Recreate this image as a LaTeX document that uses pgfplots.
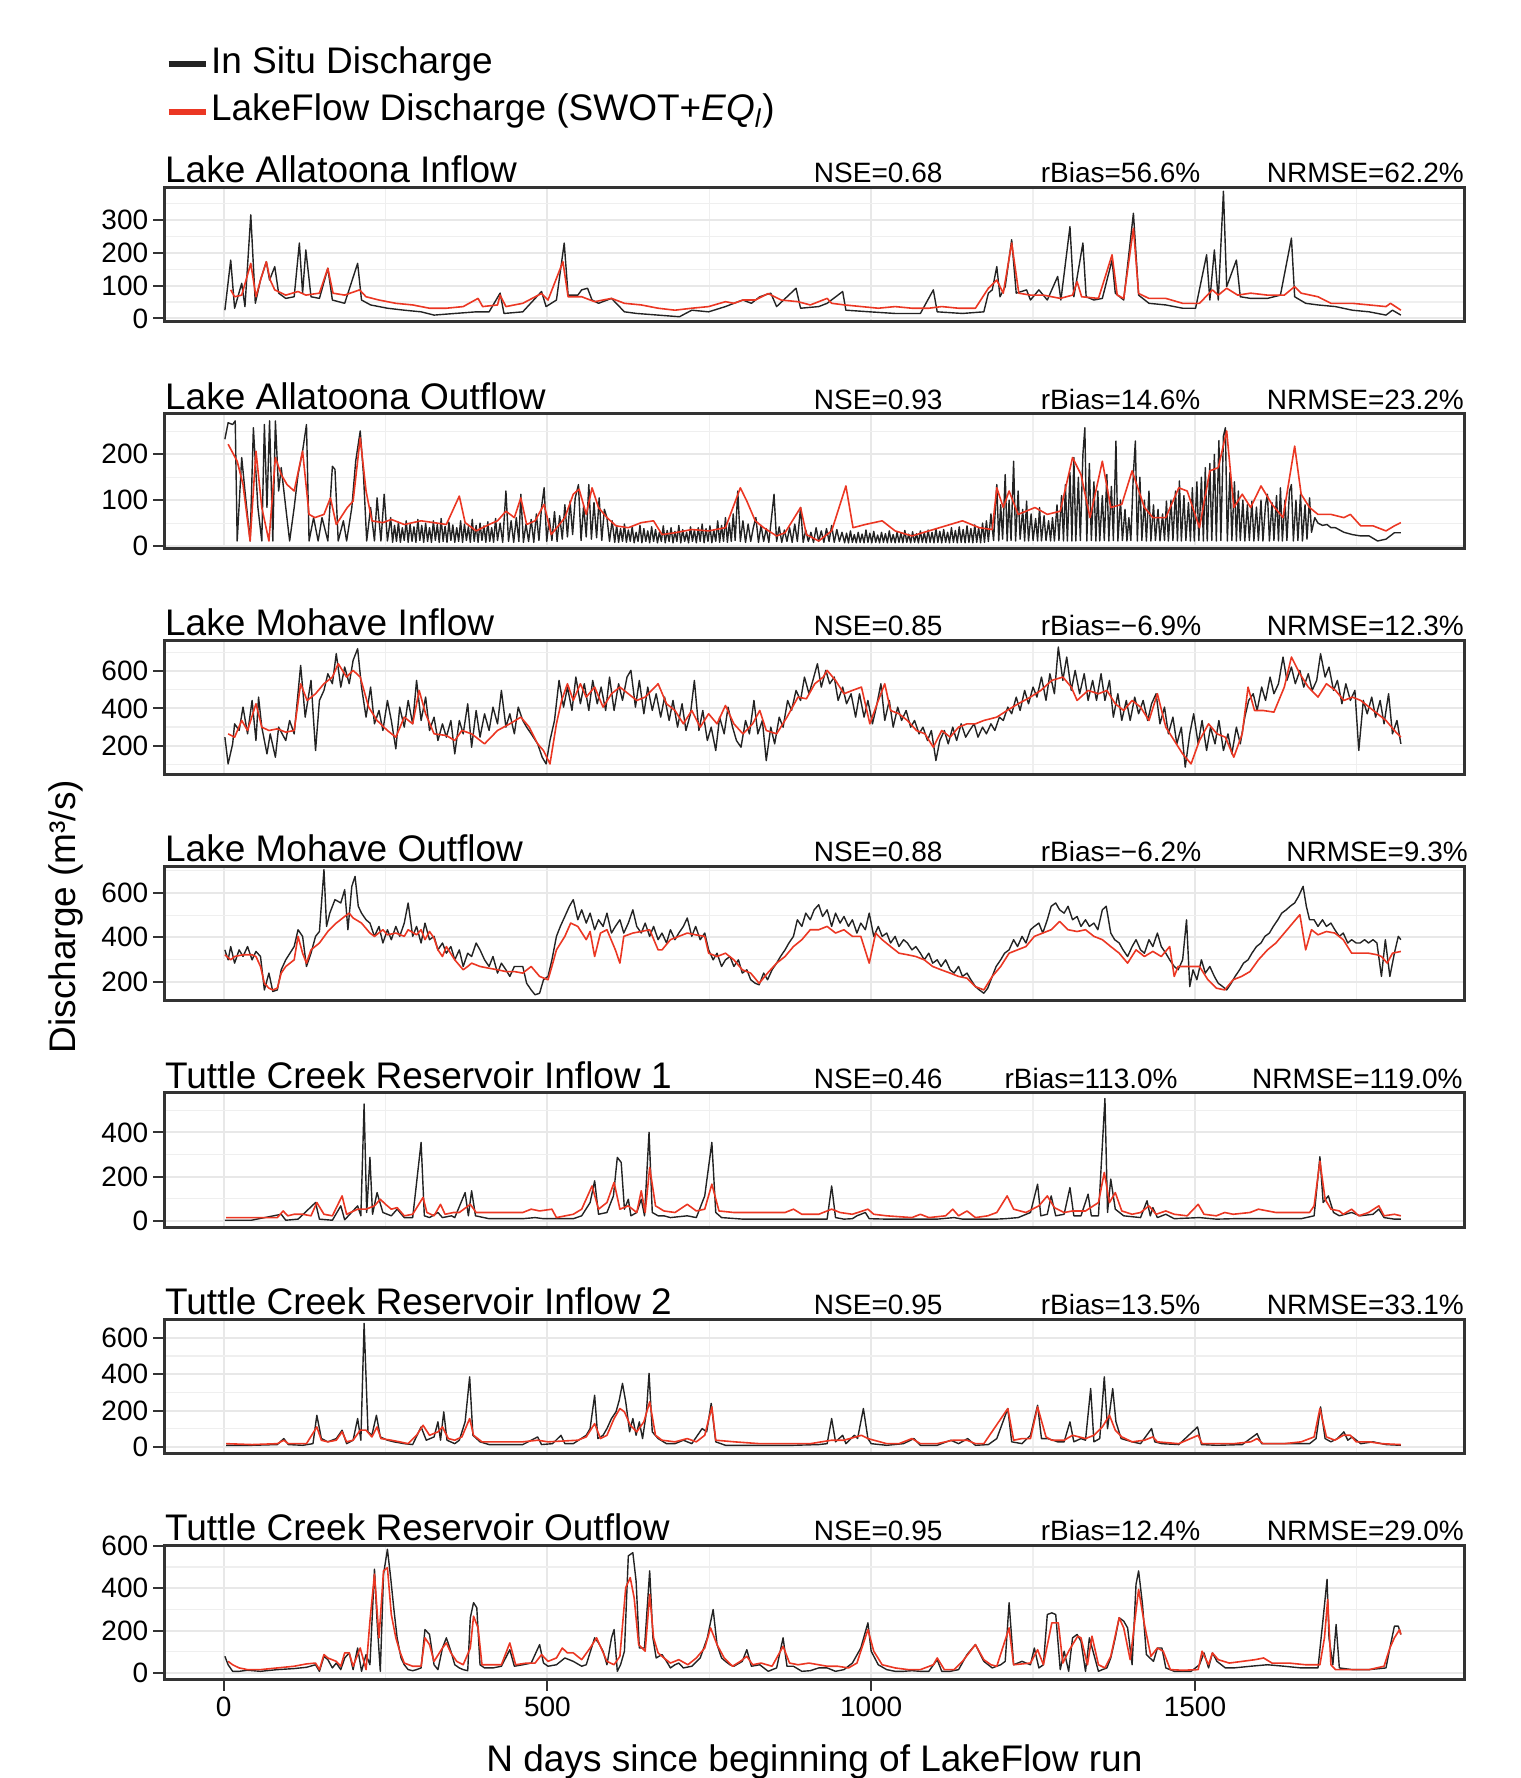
\documentclass[border=0pt]{standalone}
\usepackage{fontspec}
\setmainfont{Liberation Sans}
\usepackage{pgfplots}
\pgfplotsset{compat=1.18}
\definecolor{lfred}{RGB}{235,55,35}
\definecolor{insitu}{RGB}{35,35,35}
\definecolor{gridc}{RGB}{232,232,232}
\definecolor{framec}{RGB}{51,51,51}
\newcommand\titlesize{\fontsize{11.1}{13}\selectfont}
\newcommand\smallsize{\fontsize{8.4}{10}\selectfont}
\pgfplotsset{
 panel/.style={
  width=390pt, height=40.3pt, scale only axis, anchor=south west,
  xmin=-91.25, xmax=1916.25,
  xtick={0,500,1000,1500}, minor xtick={250,750,1250,1750},
  xticklabels={}, xtick style={draw=none},
  grid=both,
  major grid style={color=gridc, line width=0.6pt},
  minor grid style={color=gridc!70!white, line width=0.35pt},
  axis line style={line width=0.9pt, color=framec},
  tick align=outside, xtick pos=bottom, ytick pos=left,
  major tick length=3.3pt, minor tick length=0pt,
  major tick style={line width=0.6pt, color=framec},
  tick label style={font=\smallsize, color=black},
  yticklabel style={inner sep=1.4pt},
  /pgf/number format/assume math mode=true,
  /pgf/number format/1000 sep={},
  scaled ticks=false,
  clip mode=individual,
 },
 insitu/.style={color=insitu, line width=0.42pt, line join=round},
 lake/.style={color=lfred, line width=0.48pt, line join=round},
}
\newcommand\panelhead[6]{%
  \node[anchor=base west, inner sep=0pt, font=\titlesize, yshift=1.4pt] at (rel axis cs:0,1) {#1};
  \node[anchor=base west, inner sep=0pt, font=\smallsize, yshift=1.4pt] at (rel axis cs:0.4991,1) {#2};
  \node[anchor=base west, inner sep=0pt, font=\smallsize, yshift=1.4pt] at (rel axis cs:#3,1) {#4};
  \node[anchor=base east, inner sep=0pt, font=\smallsize, yshift=1.4pt] at (rel axis cs:#5,1) {#6};
}
\begin{document}
\begin{tikzpicture}
\path[use as bounding box] (0,0) rectangle (456pt,533.4pt);
% ---------------- Panel 1
\begin{axis}[panel, at={(49.35pt,436.8pt)}, ymin=-11, ymax=399,
  ytick={0,100,200,300}, minor ytick={50,150,250,350},
  legend cell align=left,
  legend style={at={(axis description cs:0.0004,2.067)}, anchor=north west, draw=none, fill=none,
    inner sep=0pt, font=\titlesize, row sep=2.8pt,
    nodes={inner sep=0.5pt, text height=8pt, text depth=2.5pt}},
  legend image code/.code={\draw[#1, line width=1.8pt] (0pt,0pt) -- (11.3pt,0pt);},
]
\addplot[insitu] coordinates {(2,25) (11,178) (17,31) (28,107) (33,36) (42,316) (49,46) (57,117) (66,173) (71,117) (79,158) (85,77) (96,61) (109,66) (117,230) (122,77) (127,209) (135,66) (148,61) (161,153) (168,56) (187,46) (207,168) (213,56) (227,41) (253,31) (279,25) (305,20) (325,10) (357,15) (390,20) (410,20) (427,77) (433,15) (462,20) (491,82) (498,36) (514,56) (526,230) (532,71) (547,71) (553,87) (562,92) (569,56) (579,46) (599,61) (619,20) (638,15) (671,10) (704,5) (723,25) (749,20) (775,36) (788,46) (802,56) (815,46) (828,66) (845,77) (854,36) (884,92) (891,31) (919,36) (932,46) (956,82) (961,25) (998,20) (1037,15) (1076,15) (1096,87) (1102,20) (1141,15) (1174,20) (1181,77) (1187,87) (1194,158) (1199,66) (1207,97) (1217,240) (1224,77) (1240,87) (1246,56) (1259,87) (1272,56) (1288,128) (1293,56) (1307,280) (1313,66) (1327,230) (1332,66) (1344,56) (1357,61) (1372,178) (1377,77) (1390,56) (1405,321) (1413,71) (1429,46) (1455,41) (1481,31) (1501,31) (1518,194) (1523,56) (1530,209) (1536,56) (1544,388) (1549,97) (1564,178) (1570,66) (1586,61) (1612,61) (1632,71) (1649,245) (1654,66) (1671,46) (1690,41) (1717,36) (1743,25) (1769,20) (1795,10) (1805,25) (1818,10)};
\addplot[lake] coordinates {(11,87) (17,66) (28,71) (42,168) (50,66) (57,117) (66,173) (72,117) (79,87) (96,71) (115,82) (127,71) (148,77) (161,153) (169,77) (187,71) (210,87) (220,66) (240,56) (266,46) (292,41) (318,31) (344,31) (370,36) (393,61) (400,36) (423,41) (427,71) (436,36) (462,46) (491,76) (501,56) (524,173) (532,66) (553,66) (573,51) (599,61) (619,46) (645,41) (671,31) (697,25) (723,31) (749,36) (775,51) (788,46) (802,56) (821,56) (841,76) (861,56) (887,51) (906,41) (932,61) (939,46) (959,41) (985,36) (1011,31) (1037,36) (1063,31) (1089,31) (1109,36) (1135,31) (1161,31) (1181,92) (1194,117) (1204,77) (1217,230) (1228,77) (1246,71) (1266,71) (1292,61) (1311,71) (1318,112) (1325,66) (1351,61) (1372,194) (1380,71) (1390,61) (1405,275) (1413,76) (1429,61) (1455,61) (1481,46) (1507,46) (1527,87) (1536,71) (1549,92) (1566,71) (1586,77) (1612,71) (1638,71) (1654,97) (1664,77) (1690,66) (1710,46) (1743,46) (1769,41) (1795,36) (1802,46) (1818,25)};
\legend{In Situ Discharge, LakeFlow Discharge (SWOT+\textit{EQ\textsubscript{l}})}
\panelhead{Lake Allatoona Inflow}{NSE=0.68}{0.6736}{rBias=56.6\%}{1}{NRMSE=62.2\%}
\end{axis}
% ---------------- Panel 2
\begin{axis}[panel, at={(49.35pt,368.9pt)}, ymin=-5, ymax=288,
  ytick={0,100,200}, minor ytick={50,150,250}]
\addplot[insitu] coordinates {(2,233) (7,269) (14,265) (18,273) (21,11) (28,193) (33,120) (41,11) (46,258) (53,84) (59,11) (63,265) (67,84) (71,273) (76,11) (80,273) (85,120) (89,171) (96,84) (102,11) (109,84) (115,156) (122,207) (128,265) (132,11) (139,62) (146,11) (152,62) (161,11) (168,174) (172,167) (177,11) (185,55) (190,11) (198,84) (204,185) (211,251) (216,156) (221,11) (227,84) (233,11) (237,105) (243,11) (248,113) (253,11)
(258,62) (261,8) (264,45) (267,10) (270,52) (273,8) (276,40) (279,12) (282,55) (285,8) (288,48) (291,10) (294,42) (297,8) (300,58) (303,12) (306,45) (309,8) (312,50) (315,10) (318,40) (321,8) (324,55) (327,12) (330,47) (333,8) (336,60) (339,10) (342,43) (345,8) (348,52) (351,12) (354,46) (357,8) (360,40) (363,10) (366,55) (369,8) (372,48) (375,12) (378,42) (381,8) (384,58) (387,10) (390,45) (393,8) (396,50) (399,12) (402,44) (405,8) (408,53) (411,10) (414,40) (417,8) (420,60) (423,12) (427,50) (431,8) (436,120) (440,10) (444,55) (448,8) (452,62) (456,10) (459,113) (463,8) (467,48) (471,10) (475,58) (479,8) (483,70) (487,12) (491,85) (495,127) (499,10) (503,60) (507,12) (511,75) (515,10) (519,66) (523,15) (527,90) (531,20) (535,98) (539,25) (543,105) (548,134) (552,12) (556,88) (560,20) (564,134) (568,15) (572,95) (576,18) (580,105) (584,12) (588,80) (592,62) (596,10) (600,55) (604,8)
(607,45) (610,8) (613,38) (616,10) (619,48) (622,8) (625,35) (628,10) (631,42) (634,7) (637,30) (640,10) (643,45) (646,7) (649,38) (652,10) (655,33) (658,7) (661,42) (664,10) (667,36) (670,7) (673,30) (676,10) (679,44) (682,7) (685,34) (688,10) (691,40) (694,7) (697,32) (700,10) (703,45) (706,7) (709,36) (712,10) (715,30) (718,7) (721,42) (724,10) (727,35) (730,7) (733,40) (736,10) (739,48) (742,7) (745,38) (748,10) (751,44) (754,7) (757,35) (760,10) (763,55) (766,8) (769,45) (772,10) (775,62) (778,8) (781,50) (784,10) (787,70) (790,12) (794,120) (798,10) (802,55) (806,8) (810,48) (814,10) (818,40) (822,62) (826,8) (830,45) (834,10) (838,38) (842,8) (846,60) (850,113) (854,10) (858,42) (862,8) (866,35) (870,10) (874,40) (878,8) (882,48) (886,10) (891,84) (895,8) (899,35) (903,10) (907,30) (911,8) (915,40) (919,10) (923,33) (927,8) (931,38) (935,10) (939,45) (943,8) (947,36) (951,10) (955,30) (959,7)
(962,28) (965,7) (968,33) (971,8) (974,25) (977,7) (980,30) (983,8) (986,26) (989,7) (992,35) (995,8) (998,28) (1001,7) (1004,32) (1007,8) (1010,24) (1013,7) (1016,30) (1019,8) (1022,27) (1025,7) (1028,33) (1031,8) (1034,25) (1037,7) (1040,30) (1043,8) (1046,28) (1049,7) (1052,34) (1055,8) (1058,26) (1061,7) (1064,31) (1067,8) (1070,27) (1073,7) (1076,33) (1079,8) (1082,29) (1085,7) (1088,35) (1091,8) (1094,30) (1097,7) (1100,38) (1103,8) (1106,32) (1109,7) (1112,36) (1115,8) (1118,30) (1121,7) (1124,40) (1127,8) (1130,34) (1133,7) (1136,42) (1139,8) (1142,36) (1145,7) (1148,44) (1151,8) (1154,38) (1157,7) (1160,46) (1163,8) (1166,40) (1169,7) (1172,50) (1175,8) (1178,55) (1181,10) (1185,70) (1189,12)
(1194,134) (1197,11) (1200,90) (1203,15) (1207,156) (1210,11) (1213,100) (1216,12) (1220,185) (1223,11) (1227,120) (1230,15) (1234,80) (1237,11) (1240,98) (1243,11) (1247,70) (1250,12) (1254,60) (1257,11) (1260,84) (1263,11) (1267,66) (1270,12) (1274,55) (1277,11) (1280,62) (1283,11) (1287,90) (1290,12) (1294,110) (1297,11) (1300,134) (1303,11) (1307,160) (1310,11) (1313,193) (1316,11) (1320,150) (1323,12) (1327,200) (1330,258) (1333,11) (1337,180) (1340,12) (1344,140) (1347,11) (1350,120) (1353,11) (1357,110) (1360,12) (1364,156) (1367,11) (1371,130) (1374,12) (1378,229) (1381,11) (1385,100) (1388,12) (1392,80) (1395,11) (1398,62) (1401,12) (1405,160) (1408,229) (1411,11) (1415,150) (1418,12) (1422,100) (1425,11) (1429,120) (1432,11) (1436,90) (1439,12) (1443,80) (1446,11) (1450,70) (1453,12) (1456,98) (1459,11) (1463,100) (1466,12) (1470,120) (1473,11) (1476,142) (1479,11) (1483,110) (1486,12) (1490,95) (1493,11) (1496,127) (1499,11) (1503,140) (1506,12) (1510,150) (1513,11) (1516,171) (1519,11) (1523,180) (1526,12) (1530,200) (1533,11) (1537,230) (1540,12) (1544,240) (1547,258) (1550,11) (1554,160) (1557,12) (1561,140) (1564,11) (1567,120) (1570,12) (1574,100) (1577,11) (1581,90) (1584,12) (1588,98) (1591,11) (1595,85) (1598,12) (1602,100) (1605,11) (1609,90) (1612,113) (1615,11) (1619,95) (1622,12) (1626,110) (1629,11) (1632,127) (1635,11) (1639,100) (1642,12) (1646,120) (1649,134) (1652,11) (1656,100) (1659,12) (1663,113) (1666,11) (1670,90) (1673,15) (1677,105) (1680,30) (1685,62) (1690,50) (1697,45) (1704,47) (1710,40) (1717,40) (1730,30) (1743,25) (1756,22) (1769,22) (1782,11) (1795,15) (1808,29) (1818,29)};
\addplot[lake] coordinates {(7,222) (21,185) (30,134) (41,11) (50,207) (59,84) (70,11) (80,193) (89,156) (98,134) (109,120) (122,207) (132,69) (141,62) (155,69) (165,105) (174,47) (191,84) (200,98) (211,236) (220,120) (229,55) (246,51) (259,58) (279,47) (305,55) (325,51) (344,47) (364,109) (373,51) (390,33) (410,47) (423,55) (436,76) (449,62) (459,105) (468,47) (481,55) (495,91) (506,25) (527,62) (540,113) (549,124) (560,69) (569,127) (579,84) (592,62) (606,44) (625,40) (645,51) (664,55) (677,25) (697,29) (723,36) (749,33) (775,40) (798,127) (808,98) (821,55) (834,40) (854,22) (867,29) (891,84) (900,25) (919,11) (939,33) (961,131) (972,40) (991,47) (1017,55) (1037,33) (1063,22) (1089,33) (1115,44) (1141,55) (1167,40) (1187,36) (1194,127) (1204,84) (1213,120) (1227,69) (1253,84) (1272,69) (1292,76) (1311,193) (1324,156) (1338,62) (1357,185) (1370,84) (1387,91) (1403,164) (1422,84) (1435,62) (1455,62) (1475,127) (1488,120) (1507,40) (1523,164) (1536,171) (1549,251) (1560,84) (1573,113) (1586,84) (1602,131) (1619,91) (1636,62) (1654,218) (1664,113) (1677,84) (1690,69) (1710,69) (1730,62) (1740,69) (1756,44) (1775,44) (1795,33) (1808,44) (1818,51)};
\panelhead{Lake Allatoona Outflow}{NSE=0.93}{0.6736}{rBias=14.6\%}{1}{NRMSE=23.2\%}
\end{axis}
% ---------------- Panel 3
\begin{axis}[panel, at={(49.35pt,301.0pt)}, ymin=43, ymax=767,
  ytick={200,400,600}, minor ytick={100,300,500,700}]
\addplot[insitu] coordinates {(2,245) (7,101) (14,209) (17,317) (24,281) (30,407) (37,263) (44,443) (50,227) (54,461) (59,299) (67,155) (72,263) (80,137) (85,299) (96,227) (102,335) (109,263) (119,632) (126,353) (135,551) (142,173) (148,443) (155,497) (161,587) (168,533) (174,695) (181,515) (187,623) (194,533) (200,659) (207,722) (213,515) (220,353) (227,515) (233,317) (240,389) (246,281) (253,443) (259,335) (266,182) (272,407) (279,299) (285,443) (292,317) (298,551) (305,335) (312,461) (318,281) (325,353) (331,227) (338,317) (344,245) (351,335) (357,155) (364,335) (370,263) (377,425) (383,191) (390,389) (396,245) (403,371) (410,281) (416,407) (423,317) (429,497) (436,299) (442,371) (449,263) (455,407) (462,335) (468,299) (475,263) (485,209) (492,137) (498,101) (504,227) (511,335) (518,551) (525,407) (531,515) (538,389) (544,569) (551,425) (557,533) (564,389) (570,551) (577,425) (583,515) (590,389) (596,569) (603,389) (610,533) (616,443) (623,569) (629,605) (636,407) (642,551) (649,371) (655,515) (662,389) (668,479) (675,353) (681,461) (688,335) (694,443) (701,299) (708,425) (714,281) (721,371) (727,551) (734,281) (740,389) (747,227) (753,299) (760,173) (766,353) (773,263) (779,407) (786,299) (792,227) (799,191) (806,335) (812,263) (819,443) (825,263) (832,335) (838,119) (845,299) (851,209) (858,353) (864,299) (871,443) (877,389) (884,497) (891,443) (897,569) (904,479) (910,551) (917,641) (923,515) (930,605) (936,533) (943,569) (949,443) (956,515) (962,425) (969,479) (976,353) (982,479) (989,353) (995,443) (1002,317) (1008,407) (1015,533) (1021,335) (1028,443) (1034,299) (1041,407) (1047,335) (1054,389) (1061,299) (1067,335) (1074,263) (1080,299) (1087,227) (1093,281) (1100,119) (1106,227) (1113,281) (1119,209) (1126,299) (1132,227) (1139,317) (1146,245) (1152,281) (1159,317) (1165,245) (1172,299) (1178,263) (1185,317) (1191,281) (1198,353) (1204,335) (1211,407) (1217,371) (1224,461) (1230,389) (1237,497) (1243,425) (1250,515) (1256,461) (1263,569) (1270,443) (1276,587) (1283,479) (1289,731) (1296,551) (1302,677) (1309,497) (1315,605) (1322,479) (1329,587) (1335,443) (1342,551) (1348,443) (1355,587) (1361,443) (1368,551) (1374,353) (1381,479) (1387,335) (1394,443) (1400,335) (1407,461) (1413,371) (1420,443) (1427,335) (1433,425) (1440,479) (1446,317) (1453,407) (1459,263) (1466,353) (1472,209) (1479,299) (1485,83) (1492,263) (1498,371) (1505,209) (1511,335) (1518,173) (1524,299) (1531,209) (1537,335) (1544,173) (1551,263) (1557,155) (1564,299) (1570,209) (1577,353) (1583,443) (1590,479) (1596,389) (1603,515) (1609,443) (1616,569) (1622,479) (1629,533) (1636,677) (1642,551) (1649,623) (1655,533) (1662,605) (1668,515) (1675,587) (1681,497) (1688,551) (1694,695) (1701,569) (1707,623) (1714,497) (1720,551) (1727,425) (1733,533) (1740,443) (1747,497) (1753,173) (1760,443) (1766,371) (1773,461) (1779,353) (1786,443) (1792,317) (1799,479) (1805,263) (1812,335) (1818,209)};
\addplot[lake] coordinates {(7,263) (17,245) (28,335) (37,281) (50,425) (59,299) (70,281) (83,290) (96,272) (109,281) (119,533) (129,443) (142,479) (155,533) (168,569) (177,641) (190,569) (200,605) (211,569) (224,407) (237,335) (253,281) (266,245) (279,353) (292,317) (302,497) (312,371) (325,263) (344,254) (357,227) (368,281) (383,263) (403,209) (423,281) (442,317) (459,353) (472,299) (485,209) (494,173) (504,101) (514,317) (522,443) (531,533) (540,443) (551,533) (560,461) (573,515) (586,407) (599,479) (612,515) (625,479) (638,443) (651,461) (671,533) (684,425) (697,389) (710,317) (723,389) (736,299) (749,371) (762,317) (775,416) (788,317) (802,263) (817,317) (828,389) (838,281) (854,263) (870,353) (887,461) (900,452) (913,533) (926,569) (932,605) (945,551) (958,479) (971,497) (985,515) (998,317) (1011,443) (1021,533) (1030,389) (1043,371) (1056,335) (1070,281) (1083,263) (1096,191) (1109,281) (1122,245) (1135,299) (1148,317) (1161,317) (1174,335) (1194,353) (1210,389) (1227,425) (1246,461) (1262,497) (1279,551) (1296,569) (1309,515) (1318,443) (1335,497) (1351,479) (1364,497) (1377,425) (1390,389) (1403,443) (1416,407) (1429,335) (1442,479) (1455,299) (1468,227) (1481,155) (1494,101) (1507,227) (1521,317) (1534,263) (1547,245) (1560,137) (1573,263) (1582,515) (1592,389) (1605,389) (1622,380) (1638,515) (1649,677) (1662,587) (1675,515) (1690,461) (1703,533) (1717,497) (1730,443) (1743,461) (1756,443) (1769,407) (1782,371) (1795,335) (1808,281) (1818,245)};
\panelhead{Lake Mohave Inflow}{NSE=0.85}{0.6736}{rBias=−6.9\%}{1}{NRMSE=12.3\%}
\end{axis}
% ---------------- Panel 4
\begin{axis}[panel, at={(49.35pt,233.1pt)}, ymin=112, ymax=719,
  ytick={200,400,600}, minor ytick={300,500,700},
  ylabel={Discharge (m³/s)},
  ylabel style={at={(axis description cs:-0.0760,0.628)}, anchor=center, font=\titlesize}]
\addplot[insitu] coordinates {(2,343) (7,298) (11,358) (17,283) (24,343) (30,313) (37,358) (44,298) (50,336) (57,313) (63,162) (70,238) (76,155) (83,162) (89,253) (96,298) (109,358) (115,434) (122,404) (128,268) (135,328) (142,404) (148,426) (155,706) (159,449) (164,509) (172,570) (181,555) (187,615) (192,434) (198,630) (203,675) (208,540) (213,509) (220,479) (226,464) (233,404) (240,449) (246,374) (253,434) (259,389) (266,449) (272,404) (279,464) (285,555) (292,404) (298,449) (305,374) (311,464) (318,389) (325,404) (331,343) (338,374) (344,328) (351,358) (357,298) (364,343) (370,268) (377,328) (383,313) (390,374) (396,343) (403,298) (410,268) (416,313) (423,238) (429,283) (436,253) (442,223) (449,268) (462,268) (468,192) (475,162) (481,140) (488,147) (494,208) (501,223) (507,298) (514,404) (520,449) (527,494) (534,540) (540,570) (547,479) (553,524) (560,464) (566,509) (573,434) (579,479) (586,449) (592,509) (599,419) (605,449) (612,479) (618,419) (625,464) (632,524) (638,449) (645,419) (651,464) (658,404) (664,449) (671,389) (677,419) (684,374) (690,434) (697,389) (703,419) (710,449) (716,487) (723,404) (729,449) (736,389) (743,419) (749,343) (756,298) (762,328) (769,268) (775,298) (782,313) (788,268) (795,298) (801,238) (808,253) (814,208) (821,192) (827,185) (834,238) (840,208) (847,253) (854,283) (860,313) (867,343) (873,374) (880,404) (886,479) (893,449) (899,509) (906,479) (912,524) (919,547) (925,494) (932,524) (939,449) (945,509) (952,464) (958,494) (965,449) (971,479) (978,419) (984,464) (991,434) (997,509) (1004,404) (1011,449) (1017,404) (1024,419) (1030,374) (1037,404) (1043,358) (1050,389) (1056,374) (1063,343) (1069,358) (1076,328) (1082,298) (1089,328) (1095,283) (1102,298) (1108,268) (1115,298) (1122,253) (1128,238) (1135,268) (1141,223) (1148,238) (1154,208) (1161,177) (1167,162) (1174,147) (1180,170) (1187,223) (1193,268) (1200,298) (1206,328) (1213,343) (1220,389) (1226,358) (1233,404) (1239,374) (1246,434) (1252,449) (1259,464) (1265,419) (1272,479) (1278,540) (1285,555) (1291,524) (1298,509) (1304,540) (1311,479) (1318,494) (1324,449) (1331,479) (1337,449) (1344,464) (1350,434) (1357,524) (1363,540) (1370,419) (1376,389) (1383,374) (1389,343) (1396,313) (1403,358) (1409,389) (1416,343) (1422,328) (1429,389) (1435,358) (1442,419) (1448,358) (1455,328) (1461,298) (1468,268) (1474,253) (1481,298) (1487,479) (1492,177) (1497,253) (1503,208) (1510,298) (1516,238) (1523,268) (1530,223) (1536,192) (1543,177) (1549,162) (1556,192) (1562,223) (1569,253) (1575,283) (1582,298) (1588,328) (1595,358) (1602,374) (1608,404) (1615,419) (1621,449) (1628,479) (1634,509) (1641,524) (1647,540) (1654,555) (1660,585) (1667,630) (1672,540) (1677,479) (1684,479) (1690,449) (1697,479) (1703,449) (1710,464) (1716,434) (1723,404) (1729,419) (1736,374) (1742,389) (1749,374) (1755,374) (1762,389) (1768,374) (1775,389) (1781,374) (1788,223) (1794,389) (1801,223) (1808,328) (1814,404) (1818,389)};
\addplot[lake] coordinates {(2,321) (11,298) (17,313) (30,321) (44,321) (50,313) (57,268) (63,192) (70,170) (76,162) (83,170) (89,238) (96,268) (109,298) (115,404) (122,328) (128,283) (135,343) (148,374) (161,426) (174,464) (187,494) (194,509) (200,487) (213,464) (226,419) (233,404) (246,434) (253,411) (266,419) (279,404) (285,434) (298,411) (305,434) (311,389) (318,426) (325,396) (331,343) (338,313) (344,358) (357,298) (370,253) (377,268) (383,283) (396,268) (410,260) (423,253) (436,245) (449,245) (462,238) (475,268) (488,223) (501,208) (507,268) (514,343) (527,404) (536,464) (547,449) (560,389) (566,426) (573,313) (582,419) (592,434) (605,343) (612,283) (618,404) (632,419) (645,426) (658,434) (671,343) (677,343) (690,389) (703,404) (716,419) (729,411) (743,404) (749,328) (762,313) (775,328) (788,298) (801,253) (814,238) (827,192) (840,238) (854,283) (867,313) (880,358) (893,389) (906,434) (919,434) (932,449) (945,419) (958,434) (971,404) (984,404) (997,283) (1007,419) (1017,389) (1030,358) (1043,328) (1056,321) (1069,313) (1082,298) (1095,268) (1108,253) (1122,238) (1135,223) (1148,215) (1161,177) (1174,162) (1187,223) (1200,268) (1213,328) (1226,343) (1239,358) (1252,404) (1265,419) (1278,434) (1291,472) (1304,434) (1318,426) (1331,434) (1344,404) (1357,389) (1370,358) (1383,328) (1396,283) (1409,343) (1422,313) (1435,336) (1448,313) (1461,358) (1468,223) (1474,268) (1487,268) (1507,268) (1520,208) (1533,170) (1546,162) (1559,208) (1572,223) (1585,245) (1598,298) (1612,343) (1625,374) (1638,419) (1651,464) (1662,502) (1671,343) (1680,434) (1690,411) (1703,426) (1716,419) (1729,389) (1742,328) (1755,328) (1768,328) (1781,321) (1788,313) (1797,283) (1805,328) (1818,336)};
\panelhead{Lake Mohave Outflow}{NSE=0.88}{0.6736}{rBias=−6.2\%}{1.003}{NRMSE=9.3\%}
\end{axis}
% ---------------- Panel 5
\begin{axis}[panel, at={(49.35pt,165.2pt)}, ymin=-29, ymax=578,
  ytick={0,200,400}, minor ytick={100,300,500}]
\addplot[insitu] coordinates {(2,3) (17,3) (43,3) (89,30) (96,3) (115,8) (142,83) (148,8) (168,3) (181,68) (187,5) (207,68) (212,23) (217,528) (221,38) (226,287) (230,30) (237,128) (246,38) (259,23) (268,53) (279,15) (292,15) (305,355) (310,23) (318,15) (331,38) (338,15) (352,23) (357,15) (373,128) (378,23) (383,136) (389,23) (410,10) (436,10) (462,10) (481,15) (494,10) (514,10) (540,10) (553,23) (566,83) (573,181) (579,30) (592,38) (602,113) (608,287) (614,264) (619,53) (625,98) (629,23) (638,38) (645,98) (650,23) (657,400) (662,38) (671,23) (680,23) (690,15) (716,23) (730,15) (743,113) (754,355) (760,38) (769,15) (802,8) (867,8) (932,8) (939,158) (945,15) (958,8) (971,10) (978,23) (991,38) (997,10) (1024,8) (1063,8) (1102,8) (1128,15) (1141,8) (1167,8) (1193,8) (1207,10) (1227,15) (1246,38) (1257,166) (1262,23) (1272,30) (1278,113) (1285,23) (1298,30) (1307,151) (1313,23) (1324,23) (1335,121) (1340,23) (1351,23) (1361,553) (1365,38) (1370,189) (1377,53) (1390,23) (1416,15) (1426,91) (1431,23) (1435,60) (1442,15) (1455,30) (1468,10) (1507,15) (1533,8) (1559,10) (1585,10) (1612,10) (1638,10) (1664,10) (1684,23) (1693,290) (1698,83) (1706,113) (1714,38) (1723,23) (1742,38) (1755,23) (1775,30) (1784,53) (1792,15) (1808,8) (1818,8)};
\addplot[lake] coordinates {(4,15) (57,15) (83,15) (92,45) (99,23) (109,30) (122,30) (135,23) (144,83) (155,30) (168,23) (183,113) (190,30) (207,53) (220,53) (233,68) (242,98) (250,75) (259,53) (268,60) (279,23) (292,30) (308,106) (314,38) (325,23) (335,75) (342,30) (355,38) (364,38) (381,75) (390,38) (410,38) (436,38) (462,38) (475,53) (488,45) (507,53) (514,15) (540,30) (553,53) (569,158) (579,53) (592,83) (603,174) (612,53) (625,68) (638,38) (645,136) (651,38) (658,241) (667,68) (680,45) (697,38) (716,75) (730,45) (743,53) (754,166) (765,45) (788,38) (815,38) (841,38) (867,38) (880,53) (893,30) (919,30) (939,53) (952,38) (971,30) (995,53) (1004,30) (1024,23) (1063,15) (1076,30) (1089,15) (1115,23) (1126,53) (1135,23) (1148,45) (1161,15) (1180,23) (1194,38) (1210,113) (1220,53) (1239,38) (1259,68) (1272,113) (1283,60) (1298,38) (1311,45) (1331,45) (1351,83) (1360,219) (1368,83) (1377,128) (1387,45) (1403,30) (1416,38) (1429,68) (1440,30) (1455,45) (1468,30) (1488,23) (1505,75) (1514,30) (1533,23) (1546,38) (1559,30) (1585,38) (1598,53) (1625,38) (1651,38) (1677,38) (1684,68) (1693,270) (1701,98) (1710,53) (1723,45) (1729,30) (1742,53) (1753,23) (1768,38) (1784,68) (1792,23) (1808,30) (1818,23)};
\panelhead{Tuttle Creek Reservoir Inflow 1}{NSE=0.46}{0.6457}{rBias=113.0\%}{0.999}{NRMSE=119.0\%}
\end{axis}
% ---------------- Panel 6
\begin{axis}[panel, at={(49.35pt,97.35pt)}, ymin=-36, ymax=702,
  ytick={0,200,400,600}, minor ytick={100,300,500}]
\addplot[insitu] coordinates {(4,9) (44,9) (83,13) (93,46) (100,13) (122,9) (138,18) (144,174) (151,46) (161,28) (174,46) (183,92) (190,18) (200,37) (207,156) (212,37) (217,679) (223,83) (229,64) (236,174) (242,55) (253,37) (263,28) (279,18) (292,13) (305,110) (313,37) (325,55) (331,138) (335,37) (340,193) (345,37) (357,18) (364,37) (373,138) (380,385) (385,64) (396,28) (410,13) (436,13) (462,13) (485,55) (491,13) (508,18) (521,64) (527,18) (540,18) (560,64) (566,101) (573,284) (578,46) (586,64) (592,101) (599,156) (606,193) (611,257) (616,349) (621,248) (627,83) (632,156) (637,64) (642,138) (647,46) (653,193) (657,404) (662,83) (671,46) (684,18) (697,18) (710,37) (723,18) (739,101) (746,83) (753,239) (760,28) (775,9) (802,9) (841,9) (880,9) (919,13) (932,18) (939,156) (945,28) (956,64) (961,18) (974,64) (979,46) (988,211) (995,46) (1000,18) (1024,9) (1050,18) (1066,46) (1076,9) (1102,9) (1123,37) (1135,18) (1149,46) (1161,9) (1181,13) (1194,46) (1211,211) (1217,28) (1233,18) (1246,64) (1257,229) (1263,46) (1272,46) (1281,37) (1288,28) (1298,28) (1307,138) (1313,28) (1324,46) (1331,37) (1339,321) (1344,28) (1353,46) (1360,385) (1365,101) (1373,321) (1378,138) (1386,46) (1403,28) (1416,18) (1433,101) (1438,28) (1449,18) (1475,13) (1504,110) (1510,13) (1534,9) (1573,13) (1596,73) (1603,18) (1625,18) (1651,18) (1677,18) (1687,46) (1694,220) (1701,46) (1710,28) (1720,46) (1730,83) (1736,37) (1743,55) (1756,18) (1775,28) (1795,13) (1818,9)};
\addplot[lake] coordinates {(4,18) (44,13) (83,18) (93,37) (100,18) (128,18) (144,110) (151,37) (161,28) (174,37) (183,83) (190,28) (200,37) (211,92) (220,92) (229,55) (237,110) (243,46) (259,37) (272,28) (285,18) (298,64) (308,119) (318,64) (331,83) (338,110) (347,46) (357,37) (368,55) (380,156) (386,64) (399,28) (410,28) (436,28) (462,28) (485,37) (501,28) (547,37) (560,55) (573,128) (582,46) (592,64) (603,156) (612,211) (619,193) (628,119) (638,83) (649,138) (658,248) (667,64) (677,37) (697,28) (716,46) (730,28) (743,64) (754,220) (760,37) (789,28) (828,18) (867,18) (906,18) (939,37) (958,37) (985,64) (995,46) (1024,18) (1043,18) (1063,46) (1076,18) (1102,18) (1126,37) (1148,37) (1161,18) (1174,18) (1211,211) (1220,37) (1233,46) (1246,46) (1257,220) (1270,55) (1279,37) (1298,37) (1311,64) (1331,46) (1344,64) (1357,110) (1368,174) (1377,92) (1387,55) (1403,28) (1422,37) (1435,55) (1442,28) (1475,18) (1505,64) (1511,18) (1560,18) (1586,28) (1596,46) (1605,18) (1638,18) (1664,28) (1684,55) (1693,211) (1703,55) (1716,37) (1729,64) (1740,64) (1749,28) (1769,28) (1788,18) (1818,13)};
\panelhead{Tuttle Creek Reservoir Inflow 2}{NSE=0.95}{0.6736}{rBias=13.5\%}{1}{NRMSE=33.1\%}
\end{axis}
% ---------------- Panel 7
\begin{axis}[panel, at={(49.35pt,29.46pt)}, ymin=-32, ymax=602,
  ytick={0,200,400,600}, minor ytick={100,300,500},
  xticklabels={0,500,1000,1500}, xtick style={draw=framec},
  xticklabel style={inner sep=1.5pt},
  xlabel={N days since beginning of LakeFlow run},
  xlabel style={at={(axis description cs:0.5,-0.679)}, anchor=base, font=\titlesize}]
\addplot[insitu] coordinates {(2,79) (7,39) (14,8) (24,8) (37,13) (57,8) (83,16) (109,21) (128,27) (142,39) (148,8) (155,79) (161,63) (168,24) (174,47) (181,16) (187,71) (194,95) (200,16) (207,118) (213,8) (220,87) (226,39) (233,490) (237,245) (242,8) (247,466) (253,584) (258,450) (263,300) (268,166) (274,71) (279,39) (285,16) (292,11) (298,16) (305,24) (311,205) (318,182) (325,39) (331,16) (338,118) (344,166) (351,103) (357,39) (364,24) (370,16) (377,11) (381,261) (386,332) (391,308) (396,39) (403,24) (416,24) (429,32) (442,110) (449,32) (462,39) (475,47) (488,134) (494,47) (501,32) (514,39) (527,71) (540,55) (553,32) (560,39) (573,166) (579,142) (586,103) (592,39) (599,166) (603,205) (608,8) (613,39) (619,103) (625,553) (632,568) (637,434) (642,118) (650,118) (658,482) (663,166) (668,71) (677,87) (684,55) (690,24) (697,39) (703,47) (710,24) (723,32) (736,71) (747,166) (756,300) (762,134) (769,71) (775,55) (782,39) (788,32) (801,55) (808,110) (815,32) (828,39) (841,8) (854,24) (864,166) (870,32) (880,32) (893,8) (906,11) (919,24) (932,24) (945,8) (958,16) (971,47) (984,118) (995,237) (1000,103) (1011,39) (1024,16) (1037,8) (1050,8) (1063,11) (1076,8) (1089,8) (1102,63) (1109,8) (1122,8) (1135,16) (1148,87) (1161,134) (1174,55) (1187,24) (1200,39) (1207,55) (1213,332) (1220,39) (1233,55) (1246,39) (1252,118) (1259,24) (1266,39) (1272,276) (1279,284) (1285,276) (1292,16) (1298,103) (1305,8) (1311,166) (1318,182) (1324,150) (1331,8) (1337,166) (1344,87) (1351,8) (1357,16) (1364,24) (1370,71) (1377,166) (1383,261) (1390,245) (1396,213) (1403,39) (1409,418) (1413,482) (1419,324) (1425,87) (1436,55) (1442,118) (1449,118) (1455,24) (1468,8) (1481,8) (1494,8) (1507,39) (1514,95) (1521,24) (1527,95) (1534,55) (1547,24) (1560,24) (1586,32) (1612,39) (1638,32) (1664,24) (1690,24) (1697,229) (1704,442) (1707,166) (1713,39) (1718,229) (1723,24) (1743,16) (1769,16) (1795,24) (1801,118) (1808,221) (1814,221) (1818,182)};
\addplot[lake] coordinates {(7,55) (14,39) (24,24) (37,16) (57,16) (83,24) (109,32) (128,43) (142,47) (148,16) (155,87) (161,71) (174,55) (181,32) (187,95) (194,95) (200,32) (211,118) (220,16) (226,245) (233,466) (240,166) (247,482) (253,497) (259,276) (266,166) (272,103) (279,47) (292,32) (305,32) (311,166) (318,134) (325,55) (338,118) (344,142) (351,95) (360,55) (370,39) (381,118) (386,268) (393,213) (399,39) (416,39) (429,39) (442,142) (451,39) (468,47) (481,47) (491,87) (501,55) (514,71) (523,118) (531,95) (540,95) (553,63) (566,118) (576,166) (583,118) (592,55) (603,39) (612,79) (621,403) (628,450) (634,355) (641,134) (651,103) (658,371) (664,166) (671,95) (680,71) (690,47) (703,63) (717,39) (730,71) (743,118) (752,213) (762,134) (773,71) (786,32) (798,55) (808,79) (817,39) (830,47) (847,32) (864,126) (874,47) (887,39) (904,47) (919,39) (932,32) (948,32) (965,24) (978,47) (995,205) (1004,103) (1017,39) (1037,24) (1057,16) (1076,16) (1096,39) (1102,71) (1113,16) (1128,16) (1141,55) (1161,134) (1174,63) (1185,39) (1194,32) (1213,213) (1220,39) (1246,47) (1257,110) (1266,39) (1279,237) (1289,237) (1296,47) (1305,103) (1311,134) (1319,174) (1324,166) (1334,39) (1341,174) (1351,39) (1361,24) (1370,79) (1383,261) (1390,213) (1400,63) (1413,395) (1422,229) (1432,79) (1442,118) (1451,103) (1462,16) (1481,13) (1505,16) (1511,103) (1521,39) (1527,95) (1536,63) (1553,47) (1573,55) (1593,63) (1606,71) (1619,47) (1645,47) (1671,39) (1693,39) (1700,166) (1705,347) (1710,39) (1717,16) (1743,16) (1769,16) (1792,32) (1801,118) (1808,166) (1816,205) (1818,182)};
\panelhead{Tuttle Creek Reservoir Outflow}{NSE=0.95}{0.6736}{rBias=12.4\%}{1}{NRMSE=29.0\%}
\end{axis}
\end{tikzpicture}
\end{document}
